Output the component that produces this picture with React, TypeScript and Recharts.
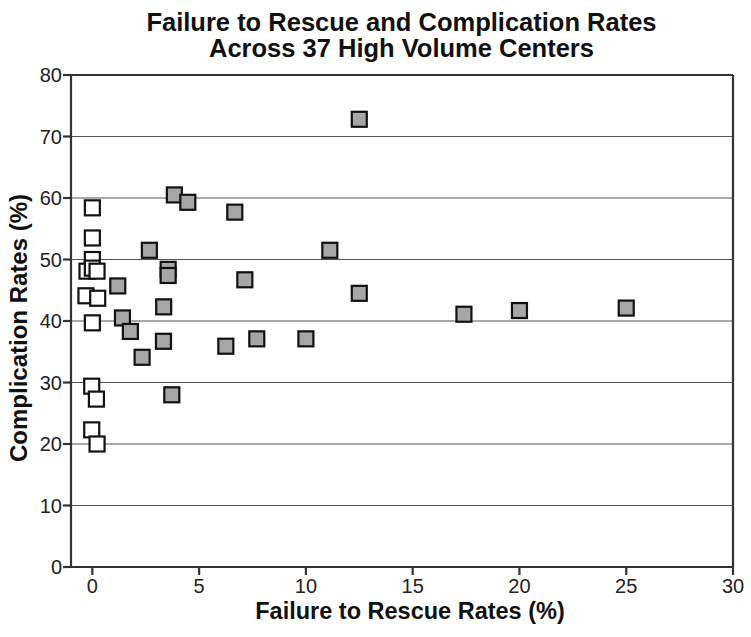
import { ScatterChart, Scatter, XAxis, YAxis, CartesianGrid, ReferenceLine } from "recharts";

// centers with failure-to-rescue > 0
const grayFtr = [12.5, 3.84, 4.47, 6.67, 2.67, 11.12, 3.55, 3.55, 7.14, 1.19, 12.5, 3.34, 25.0, 20.0, 17.4, 1.41, 1.78, 7.7, 10.0, 3.33, 6.25, 2.33, 3.72];
const grayComp = [72.8, 60.5, 59.3, 57.7, 51.5, 51.5, 48.4, 47.4, 46.7, 45.7, 44.5, 42.3, 42.1, 41.7, 41.1, 40.5, 38.3, 37.1, 37.1, 36.7, 35.9, 34.1, 28.0];

// centers with zero failure to rescue
const whiteFtr = [0, 0, 0, -0.25, 0, 0.22, -0.3, 0.25, 0, -0.03, 0.19, -0.03, 0.22];
const whiteComp = [58.4, 53.5, 50.0, 48.1, 48.6, 48.1, 44.1, 43.7, 39.7, 29.4, 27.3, 22.3, 20.0];

const xTicks = [0, 5, 10, 15, 20, 25, 30];
const yTicks = [0, 10, 20, 30, 40, 50, 60, 70, 80];

const gray = grayFtr.map((x, i) => ({ x, y: grayComp[i] }));
const white = whiteFtr.map((x, i) => ({ x, y: whiteComp[i] }));

const FONT = "'Liberation Sans', Arial, sans-serif";

const square = (fill: string) => (props: any) => (
  <rect x={props.cx - 7.5} y={props.cy - 7.5} width={15} height={15} fill={fill} stroke="#111" strokeWidth={2.2} />
);

const boldText = { position: "absolute" as const, fontWeight: "bold" as const, color: "#111", whiteSpace: "nowrap" as const, textAlign: "center" as const };

export default function App() {
  return (
    <div style={{ position: "absolute", left: 0, top: 0, width: 751, height: 637, background: "#fff", fontFamily: FONT }}>
      <ScatterChart width={751} height={637} margin={{ top: 75, right: 18, bottom: 0, left: 0 }}>
        <CartesianGrid horizontal vertical={false} stroke="#555" strokeWidth={1.2} />
        <XAxis
          type="number"
          dataKey="x"
          domain={[-1, 30]}
          ticks={xTicks}
          allowDataOverflow
          height={70}
          stroke="#333"
          strokeWidth={2.2}
          tickSize={8}
          tickMargin={4}
          tick={{ fill: "#222", fontSize: 20, fontFamily: FONT }}
        />
        <YAxis
          type="number"
          dataKey="y"
          domain={[0, 80]}
          ticks={yTicks}
          width={71}
          stroke="#333"
          strokeWidth={2.2}
          tickSize={8}
          tickMargin={1}
          tick={{ fill: "#222", fontSize: 20, fontFamily: FONT }}
        />
        <ReferenceLine y={80} stroke="#333" strokeWidth={2.2} />
        <ReferenceLine x={30} stroke="#333" strokeWidth={2.2} />
        <Scatter data={gray} isAnimationActive={false} shape={square("#a6a6a6")} />
        <Scatter data={white} isAnimationActive={false} shape={square("#fff")} />
      </ScatterChart>
      <div style={{ ...boldText, left: 0, top: 10, width: 803, fontSize: 25.5, lineHeight: "25.6px" }}>
        Failure to Rescue and Complication Rates
        <br />
        Across 37 High Volume Centers
      </div>
      <div style={{ ...boldText, left: 210, top: 600, width: 400, fontSize: 23.5, lineHeight: "23.5px" }}>
        Failure to Rescue Rates (%)
      </div>
      <div
        style={{
          ...boldText,
          left: 18.5 - 200,
          top: 327.5 - 12,
          width: 400,
          fontSize: 24,
          lineHeight: "24px",
          transform: "rotate(-90deg)",
          transformOrigin: "200px 12px",
        }}
      >
        Complication Rates (%)
      </div>
    </div>
  );
}
